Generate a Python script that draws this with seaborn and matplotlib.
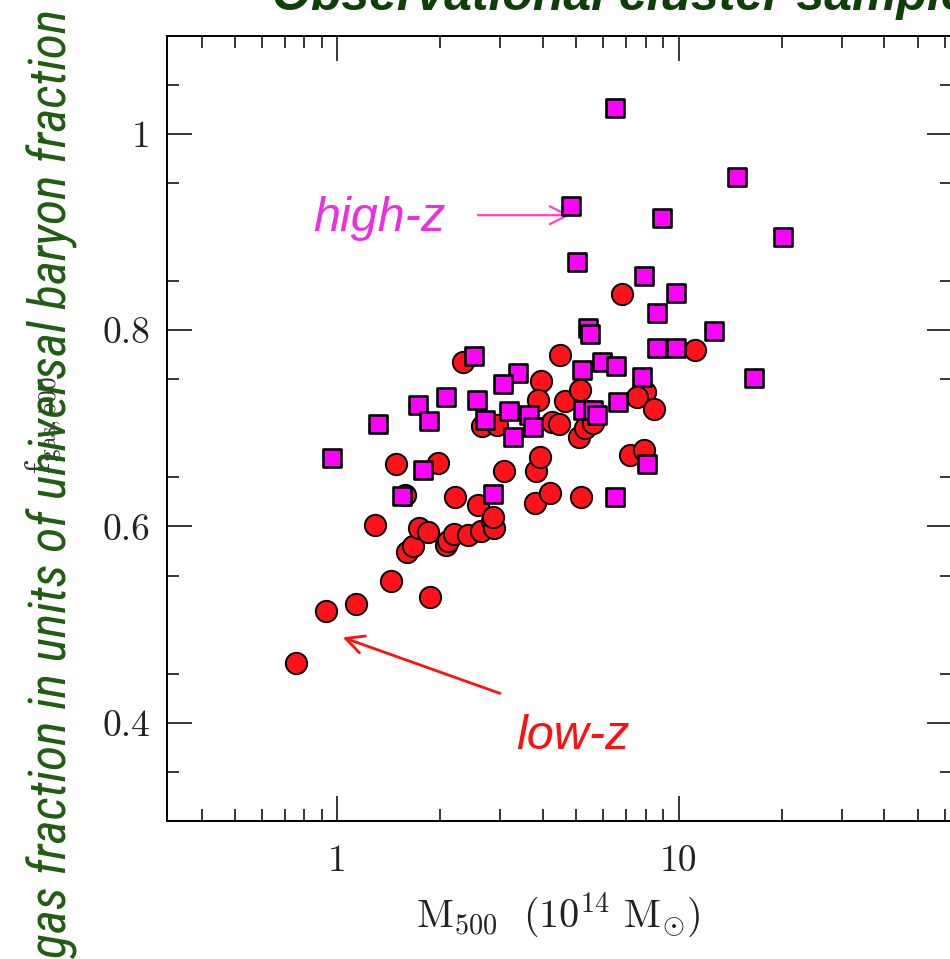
import numpy as np
import pandas as pd
import matplotlib
matplotlib.use("Agg")
import matplotlib.pyplot as plt
import seaborn as sns
from matplotlib import font_manager
from matplotlib.ticker import FixedLocator, FixedFormatter, NullFormatter

# ---------------- data ----------------
lowz_mass = [0.758, 0.923, 1.136, 1.439, 1.864, 1.288, 1.593, 1.659, 1.735, 1.845,
             2.077, 2.113, 2.200, 2.415, 2.632, 2.835, 2.879, 1.575, 2.215, 2.587,
             2.848, 3.777, 4.195, 5.16, 1.479, 1.964, 3.080, 3.815, 3.920, 2.644,
             2.926, 2.335, 3.933, 3.875, 4.487, 4.641, 5.136, 4.243, 4.467, 5.112,
             5.313, 5.618, 6.81, 11.17, 7.97, 7.53, 8.43, 7.20, 7.88]
lowz_fgas = [0.461, 0.514, 0.521, 0.544, 0.528, 0.601, 0.574, 0.580, 0.598, 0.594,
             0.581, 0.585, 0.592, 0.591, 0.595, 0.606, 0.598, 0.632, 0.630, 0.622,
             0.610, 0.624, 0.634, 0.630, 0.664, 0.665, 0.656, 0.656, 0.671, 0.702,
             0.703, 0.767, 0.748, 0.729, 0.775, 0.728, 0.739, 0.706, 0.704, 0.691,
             0.700, 0.705, 0.837, 0.780, 0.737, 0.732, 0.720, 0.673, 0.678]

highz_mass = [6.51, 14.81, 4.83, 8.92, 20.16, 5.04, 7.88, 9.80, 8.64, 5.43,
              5.48, 12.70, 8.63, 9.83, 16.64, 7.79, 5.19, 5.97, 6.54, 2.515,
              3.385, 3.047, 2.077, 1.722, 2.570, 3.186, 3.633, 2.704, 5.23, 5.61,
              5.76, 6.63, 3.747, 3.261, 8.06, 2.859, 6.52, 1.318, 0.964, 1.855,
              1.784, 1.548]
highz_fgas = [1.026, 0.956, 0.926, 0.914, 0.895, 0.869, 0.855, 0.838, 0.817, 0.802,
              0.796, 0.799, 0.782, 0.782, 0.751, 0.752, 0.759, 0.767, 0.763, 0.774,
              0.756, 0.745, 0.732, 0.724, 0.729, 0.718, 0.713, 0.708, 0.719, 0.719,
              0.714, 0.727, 0.701, 0.691, 0.664, 0.633, 0.630, 0.704, 0.670, 0.707,
              0.657, 0.631]

xtick_vals = [1, 10]
xtick_labels = ["1", "10"]
ytick_vals = [0.4, 0.6, 0.8, 1.0]
ytick_labels = ["0.4", "0.6", "0.8", "1"]

df_low = pd.DataFrame({"mass": lowz_mass, "fgas": lowz_fgas, "sample": "low-z"})
df_high = pd.DataFrame({"mass": highz_mass, "fgas": highz_fgas, "sample": "high-z"})

# ---------------- style ----------------
sns.set_style("ticks")
plt.rcParams["mathtext.fontset"] = "cm"
plt.rcParams["font.family"] = ["DejaVu Sans"]

W, H = 950, 959
fig = plt.figure(figsize=(W / 100, H / 100), dpi=100)
left, right, top, bottom = 166.8, 952.0, 35.5, 821.0
ax = fig.add_axes([left / W, 1 - bottom / H, (right - left) / W, (bottom - top) / H])

sns.scatterplot(data=df_low, x="mass", y="fgas", marker="o", s=235,
                color="#ff1219", edgecolor="black", linewidth=1.4, ax=ax,
                zorder=3, legend=False)
sns.scatterplot(data=df_high, x="mass", y="fgas", marker="s", s=175,
                color="#ff00ff", edgecolor="black", linewidth=1.9, ax=ax,
                zorder=4, legend=False)

ax.set_xscale("log")
ax.set_xlim(10 ** -0.5, 10 ** 1.8)
ax.set_ylim(0.3, 1.1)
ax.set_xlabel("")
ax.set_ylabel("")

ax.xaxis.set_major_locator(FixedLocator(xtick_vals))
ax.xaxis.set_major_formatter(FixedFormatter(xtick_labels))
minor_x = [m * d for d in (0.1, 1, 10) for m in range(2, 10)]
ax.xaxis.set_minor_locator(FixedLocator(minor_x))
ax.xaxis.set_minor_formatter(NullFormatter())
ax.yaxis.set_major_locator(FixedLocator(ytick_vals))
ax.yaxis.set_major_formatter(FixedFormatter(ytick_labels))
ax.yaxis.set_minor_locator(FixedLocator(np.arange(0.35, 1.1, 0.1)))

for sp in ax.spines.values():
    sp.set_linewidth(1.4)
    sp.set_color("black")
    sp.set_visible(True)

ax.tick_params(which="both", direction="in", top=True, right=True,
               color="black", width=1.1)
ax.tick_params(which="major", length=18, labelsize=27, pad=12)
ax.tick_params(which="minor", length=8.5)
ax.tick_params(axis="x", which="major", pad=17)
for lab in ax.get_xticklabels() + ax.get_yticklabels():
    lab.set_fontfamily("cmr10")
    lab.set_color("#222222")

# axis label (x)
fig.text(558 / W, 1 - 915 / H, r"$\mathrm{M}_{500}\ \ (10^{14}\ \mathrm{M}_{\odot})$",
         ha="center", va="center", fontsize=29, color="#222222")

# small original label partly hidden
fig.text(44 / W, 1 - 425 / H, r"$\mathrm{f}_{\mathrm{gas,500}}$", rotation=90,
         ha="center", va="center", fontsize=26, color="#333333")

# big green y label: prefer a narrow face, then fit its length
available = {f.name for f in font_manager.fontManager.ttflist}
narrow = [n for n in ("Liberation Sans Narrow", "Arial Narrow", "DejaVu Sans Condensed",
                      "Roboto Condensed", "Open Sans Condensed") if n in available]
ylab_family = narrow[:1] + ["Liberation Sans", "DejaVu Sans"]
ylab = fig.text(52 / W, 1 - 483 / H, "gas fraction in units of universal baryon fraction",
                rotation=90, ha="center", va="center", fontsize=34, style="italic",
                color="#1f5c10", family=ylab_family)
fig.canvas.draw()
target_len = 950.0
ext = ylab.get_window_extent(renderer=fig.canvas.get_renderer())
if ext.height > 0:
    ylab.set_fontsize(34 * target_len / ext.height)

# title (cut off at top)
fig.text(272 / W, 1 - 10 / H, "Observational cluster samples", ha="left",
         va="baseline", fontsize=36, style="italic", weight="bold",
         color="#0f3f08", family=["Liberation Sans", "DejaVu Sans"])

# annotations
ax.annotate("", xy=(4.80, 0.917), xytext=(2.578, 0.917),
            arrowprops=dict(arrowstyle="->", color="#ff3fcf", lw=1.6,
                            mutation_scale=32, shrinkA=0, shrinkB=0))
ax.text(1.33, 0.914, "high-z", ha="center", va="center", fontsize=35,
        style="italic", color="#ee2ee0", family=["Liberation Sans", "DejaVu Sans"])

ax.annotate("", xy=(1.036, 0.487), xytext=(2.99, 0.430),
            arrowprops=dict(arrowstyle="->", color="#ff1111", lw=2.0,
                            mutation_scale=32, shrinkA=0, shrinkB=0))
ax.text(4.90, 0.386, "low-z", ha="center", va="center", fontsize=35,
        style="italic", color="#ff1010", family=["Liberation Sans", "DejaVu Sans"])

fig.savefig("out.png", dpi=100)
